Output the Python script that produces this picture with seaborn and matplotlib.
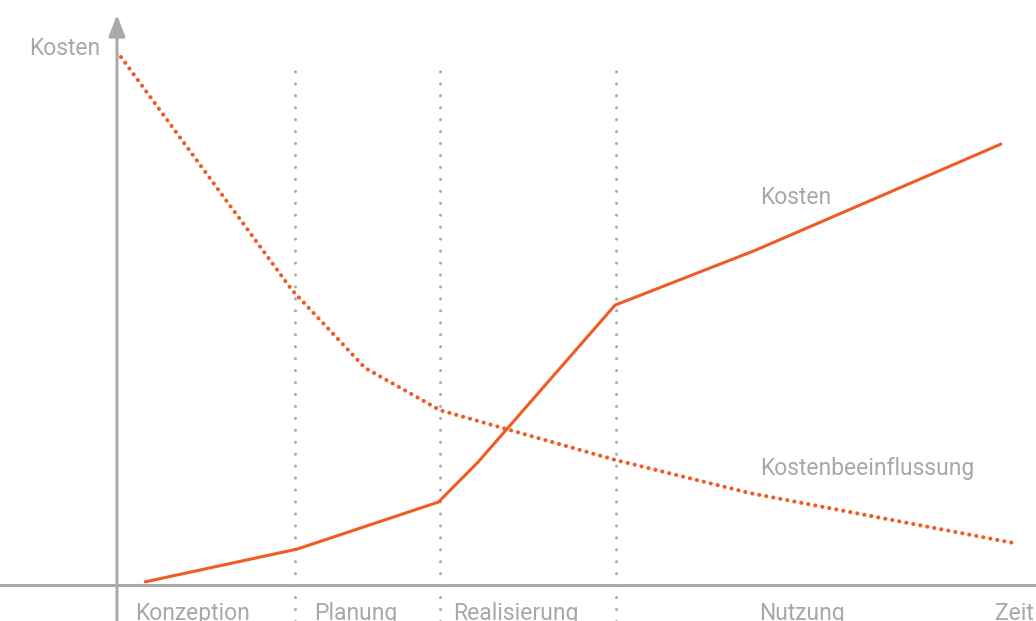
import numpy as np
import pandas as pd
import matplotlib
matplotlib.use("Agg")
import matplotlib.pyplot as plt
import seaborn as sns

# ---- data (abstract units: time 0..100, cost 0..100) ----
kosten_x = [3.2, 20.4, 36.4, 40.9, 56.4, 72.3, 100.1]
kosten_y = [0.6, 6.8, 15.7, 23.3, 53.0, 63.4, 83.5]

einfl_x = [0.45, 19.8, 28.1, 36.6, 56.4, 71.7, 101.4]
einfl_y = [100.0, 55.9, 41.1, 33.1, 23.7, 17.4, 8.0]

phase_bounds = [20.2, 36.6, 56.5]
phase_labels = ["Konzeption", "Planung", "Realisierung", "Nutzung"]
phase_label_x = [8.6, 27.0, 45.2, 77.6]

ORANGE = "#f15a22"
GRAY = "#a7a9ac"
TEXT = "#a6a8ab"

sns.set_theme(style="white")
plt.rcParams["font.family"] = ["Roboto", "DejaVu Sans"]

fig = plt.figure(figsize=(10.36, 6.21), dpi=100)
ax = fig.add_axes([0, 0, 1, 1])

# phase separators
for xb in phase_bounds:
    ax.axvline(xb, ymin=0, ymax=0.9, color=GRAY, lw=2.2,
               linestyle=(0, (0.01, 3.9)), dash_capstyle="round")

# axes lines
ax.axhline(0, xmin=(-16.3 + 13.25) / (104.08 + 13.25), xmax=1, color=GRAY, lw=2.2)
ax.annotate("", xy=(0, 108.0), xytext=(0, -7.5),
            arrowprops=dict(arrowstyle="-|>,head_length=1.3,head_width=0.5",
                            color=GRAY, lw=2.2, mutation_scale=10,
                            shrinkA=0, shrinkB=0))

df_k = pd.DataFrame({"x": kosten_x, "y": kosten_y})
df_e = pd.DataFrame({"x": einfl_x, "y": einfl_y})

sns.lineplot(data=df_k, x="x", y="y", ax=ax, color=ORANGE, lw=2.2,
             sort=False, estimator=None)
sns.lineplot(data=df_e, x="x", y="y", ax=ax, color=ORANGE, lw=3.0,
             sort=False, estimator=None)
ax.lines[-1].set_linestyle((0, (0.01, 1.7)))
ax.lines[-1].set_dash_capstyle("round")

ax.set_xlim(-13.25, 104.08)
ax.set_ylim(-6.82, 110.8)
ax.axis("off")

fs = 16.5
for lab, lx in zip(phase_labels, phase_label_x):
    ax.text(lx, -5.4, lab, ha="center", va="center", fontsize=fs, color=TEXT)
ax.text(99.4, -5.4, "Zeit", ha="left", va="center", fontsize=fs, color=TEXT)
ax.text(-1.9, 101.7, "Kosten", ha="right", va="center", fontsize=fs, color=TEXT)
ax.text(72.8, 73.4, "Kosten", ha="left", va="center", fontsize=fs, color=TEXT)
ax.text(72.8, 22.0, "Kostenbeeinflussung", ha="left", va="center", fontsize=fs, color=TEXT)

fig.savefig("out.png", dpi=100)
